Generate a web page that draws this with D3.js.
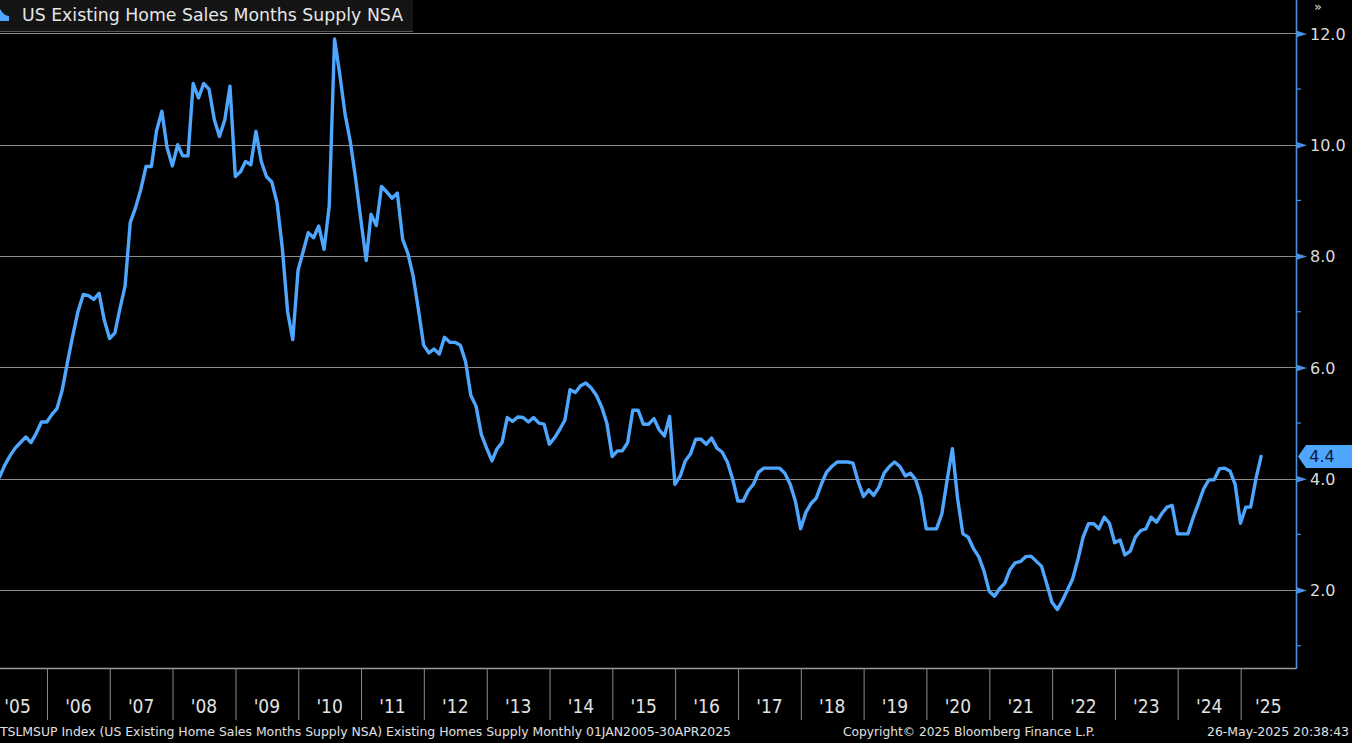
<!DOCTYPE html>
<html><head><meta charset="utf-8">
<script src="https://cdn.jsdelivr.net/npm/d3@7"></script>
<style>
html,body{margin:0;padding:0;background:#000;overflow:hidden}
svg{display:block}
</style></head><body>
<svg id="chart" width="1352" height="743"></svg>
<script>
// ---------------- DATA ----------------
const seriesName = "US Existing Home Sales Months Supply NSA";
const startYear = 2005;            // first month: Jan 2005, monthly, month-end dated
const supply2005_2009 = [
  3.80,3.90,4.03,4.24,4.41,4.55,4.65,4.75,4.65,4.82,5.02,5.02,
  5.16,5.26,5.60,6.09,6.57,7.00,7.31,7.29,7.22,7.33,6.85,6.52,
  6.62,7.04,7.46,8.60,8.87,9.19,9.61,9.61,10.25,10.60,9.95,9.62,
  10.00,9.80,9.80,11.10,10.84,11.10,11.00,10.45,10.15,10.45,11.05,9.43,
  9.52,9.70,9.64,10.24,9.70,9.43,9.33,8.95,8.15,7.00,6.50,7.75
];
const supply2010_2014 = [
  8.10,8.42,8.33,8.54,8.12,8.90,11.90,11.25,10.55,10.05,9.40,8.65,
  7.92,8.75,8.55,9.25,9.15,9.04,9.13,8.30,8.05,7.64,7.05,6.40,
  6.26,6.33,6.24,6.54,6.45,6.45,6.40,6.10,5.50,5.30,4.80,4.55,
  4.32,4.53,4.65,5.10,5.03,5.11,5.10,5.02,5.10,5.00,4.98,4.62,
  4.74,4.88,5.05,5.60,5.55,5.67,5.72,5.63,5.50,5.29,5.00,4.40
];
const supply2015_2019 = [
  4.50,4.50,4.65,5.23,5.23,4.98,4.98,5.08,4.88,4.77,5.12,3.90,
  4.05,4.32,4.45,4.71,4.71,4.62,4.73,4.55,4.48,4.30,4.00,3.60,
  3.60,3.78,3.90,4.12,4.19,4.19,4.19,4.19,4.10,3.90,3.60,3.10,
  3.40,3.55,3.65,3.90,4.12,4.22,4.30,4.30,4.30,4.28,3.95,3.68,
  3.80,3.70,3.85,4.10,4.22,4.30,4.22,4.05,4.10,3.98,3.68,3.10
];
const supply2020_2025 = [
  3.10,3.10,3.37,3.97,4.54,3.65,3.01,2.95,2.75,2.60,2.35,1.98,
  1.89,2.02,2.12,2.36,2.49,2.51,2.60,2.61,2.52,2.43,2.12,1.78,
  1.65,1.80,2.00,2.20,2.55,2.95,3.19,3.19,3.10,3.31,3.20,2.85,
  2.90,2.63,2.70,2.95,3.07,3.10,3.31,3.22,3.37,3.49,3.52,3.01,
  3.01,3.01,3.30,3.55,3.82,3.98,3.98,4.18,4.19,4.14,3.90,3.20,
  3.49,3.49,4.00,4.40
];
const yMajorTicks = [2, 4, 6, 8, 10, 12];
const yMinorTicks = [1, 3, 5, 7, 9, 11];
const yearTicks = [2005,2006,2007,2008,2009,2010,2011,2012,2013,2014,2015,
                   2016,2017,2018,2019,2020,2021,2022,2023,2024,2025];
const yearLabels = ["'05","'06","'07","'08","'09","'10","'11","'12","'13","'14","'15",
                    "'16","'17","'18","'19","'20","'21","'22","'23","'24","'25"];
const lastLabel = "4.4";
const footerLeft = "TSLMSUP Index (US Existing Home Sales Months Supply NSA) Existing Homes Supply  Monthly 01JAN2005-30APR2025";
const footerMid = "Copyright\u00A9 2025 Bloomberg Finance L.P.";
const footerRight = "26-May-2025 20:38:43";

// ---------------- BUILD ----------------
const supply = [].concat(supply2005_2009, supply2010_2014, supply2015_2019, supply2020_2025);
const data = supply.map((v, i) => ({ date: new Date(startYear, i + 1, 0), value: v }));

const W = 1352, H = 743;
const plotL = 0, plotR = 1296, plotT = 0, plotB = 668;
const lineColor = "#4ea6ff";
const axisColor = "#4a90e2";
const gridColor = "#8a8a8a";
const condensed = "'DejaVu Sans Condensed','DejaVu Sans',sans-serif";

const svg = d3.select("#chart");
svg.append("rect").attr("width", W).attr("height", H).attr("fill", "#000");

const x = d3.scaleTime()
  .domain([new Date(2005, 0, 1), new Date(2026, 0, 1)])
  .range([-15.8, -15.8 + 21 * 62.82]);
const y = d3.scaleLinear().domain([0.6, 12.6]).range([plotB, plotT]);

// clip
svg.append("defs").append("clipPath").attr("id", "plotclip")
  .append("rect").attr("x", plotL).attr("y", plotT)
  .attr("width", plotR - plotL).attr("height", plotB - plotT);

// grid
svg.append("g").selectAll("line").data(yMajorTicks).join("line")
  .attr("x1", plotL).attr("x2", plotR)
  .attr("y1", d => Math.round(y(d)) + 0.5).attr("y2", d => Math.round(y(d)) + 0.5)
  .attr("stroke", gridColor).attr("stroke-width", 1.2);

// bottom frame
svg.append("line").attr("x1", plotL).attr("x2", plotR)
  .attr("y1", plotB + 0.5).attr("y2", plotB + 0.5)
  .attr("stroke", "#9a9a9a").attr("stroke-width", 1.5);

// x axis separators (year boundaries)
const xAxis = d3.axisBottom(x)
  .tickValues(yearTicks.slice(1).map(yr => new Date(yr, 0, 1)))
  .tickSize(52).tickFormat("");
const gx = svg.append("g").attr("transform", `translate(0,${plotB})`).call(xAxis);
gx.select(".domain").remove();
gx.selectAll(".tick line").attr("stroke", gridColor).attr("stroke-width", 1);

// year labels
svg.append("g").selectAll("text").data(yearTicks).join("text")
  .attr("x", (yr) => {
    const a = x(new Date(yr, 0, 1)), b = Math.min(x(new Date(yr + 1, 0, 1)), plotR);
    return (a + b) / 2 + (yr === 2005 ? 2 : 0);
  })
  .attr("y", 713)
  .attr("text-anchor", "middle")
  .attr("fill", "#e2e2e2")
  .style("font-family", condensed).style("font-stretch", "condensed")
  .style("font-size", "19px")
  .text((yr, i) => yearLabels[i]);

// line
const line = d3.line().x(d => x(d.date)).y(d => y(d.value)).curve(d3.curveLinear);
svg.append("path").datum(data)
  .attr("clip-path", "url(#plotclip)")
  .attr("d", line)
  .attr("fill", "none").attr("stroke", lineColor)
  .attr("stroke-width", 3.4).attr("stroke-linejoin", "round").attr("stroke-linecap", "round");

// right axis
const yAxis = d3.axisRight(y).tickValues(yMajorTicks).tickSize(0).tickPadding(14)
  .tickFormat(d3.format(".1f"));
const gy = svg.append("g").attr("transform", `translate(${plotR},0)`).call(yAxis);
gy.select(".domain").attr("stroke", axisColor).attr("stroke-width", 1.6)
  .attr("d", `M0.5,${plotT}V${plotB + 1}`);
gy.selectAll(".tick text").attr("fill", "#dcdcdc")
  .style("font-family", "'DejaVu Sans',sans-serif").style("font-size", "16px")
  .attr("dy", "0.36em");
gy.selectAll(".tick").append("path")
  .attr("d", "M0,-3.5L11,0L0,3.5Z").attr("fill", axisColor);
svg.append("g").attr("transform", `translate(${plotR},0)`)
  .selectAll("line").data(yMinorTicks).join("line")
  .attr("x1", 0).attr("x2", 5)
  .attr("y1", d => y(d)).attr("y2", d => y(d))
  .attr("stroke", axisColor).attr("stroke-width", 1.2);

// last value label
const last = data[data.length - 1];
const yc = y(last.value);
svg.append("path")
  .attr("d", `M${plotR + 2},${yc}L${plotR + 10},${yc - 11.5}H${W}V${yc + 11.5}H${plotR + 10}Z`)
  .attr("fill", lineColor);
svg.append("text").attr("x", 1322).attr("y", yc).attr("dy", "0.36em")
  .attr("text-anchor", "middle").attr("fill", "#0c1a33")
  .style("font-family", "'DejaVu Sans',sans-serif").style("font-size", "16px")
  .text(lastLabel);

// top-right glyph
svg.append("text").attr("x", 1314).attr("y", 11).attr("fill", "#ddd")
  .style("font-family", "'DejaVu Sans',sans-serif").style("font-size", "13px").text("\u00BB");

// legend box
svg.append("rect").attr("x", 0).attr("y", 0).attr("width", 413).attr("height", 31)
  .attr("fill", "#141414");
svg.append("line").attr("x1", 0).attr("x2", 413).attr("y1", 31.5).attr("y2", 31.5)
  .attr("stroke", "#555").attr("stroke-width", 1);
svg.append("path").attr("d", "M0,9 Q4,16 9,16 L9,21 L0,21 Z").attr("fill", lineColor);
svg.append("text").attr("x", 22).attr("y", 21)
  .attr("fill", "#e6e6e6")
  .attr("textLength", 381).attr("lengthAdjust", "spacingAndGlyphs")
  .style("font-family", "'DejaVu Sans',sans-serif").style("font-size", "17px")
  .text(seriesName);

// footer
const foot = svg.append("g").attr("fill", "#e0e0e0")
  .style("font-family", condensed).style("font-stretch", "condensed").style("font-size", "12.5px");
foot.append("text").attr("x", 0).attr("y", 735.5)
  .attr("textLength", 731).attr("lengthAdjust", "spacingAndGlyphs").text(footerLeft);
foot.append("text").attr("x", 843).attr("y", 735.5)
  .attr("textLength", 252).attr("lengthAdjust", "spacingAndGlyphs").text(footerMid);
foot.append("text").attr("x", 1207).attr("y", 735.5)
  .attr("textLength", 142).attr("lengthAdjust", "spacingAndGlyphs").text(footerRight);
</script>
</body></html>
